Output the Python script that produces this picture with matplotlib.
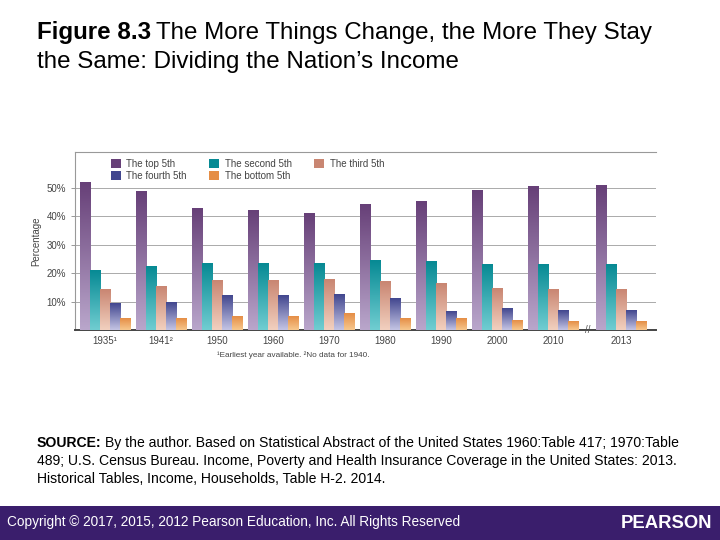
import numpy as np
import matplotlib
matplotlib.use("Agg")
import matplotlib.pyplot as plt
from matplotlib.colors import LinearSegmentedColormap
from matplotlib.patches import Patch

# Data (percent of national income)
years = ["1935\u00b9", "1941\u00b2", "1950", "1960", "1970", "1980", "1990", "2000", "2010", "2013"]
top_5th = [51.7, 48.8, 42.8, 42.0, 40.9, 43.9, 45.2, 49.1, 50.5, 50.8]
second_5th = [20.9, 22.3, 23.4, 23.5, 23.5, 24.5, 23.9, 23.1, 23.1, 23.1]
third_5th = [14.1, 15.3, 17.3, 17.4, 17.6, 17.2, 16.2, 14.6, 14.2, 14.2]
fourth_5th = [9.2, 9.5, 12.0, 12.1, 12.3, 11.1, 6.6, 7.6, 6.8, 6.8]
bottom_5th = [4.1, 4.1, 4.7, 4.7, 5.7, 4.1, 4.1, 3.2, 3.0, 3.0]

series = [
    ("The top 5th", top_5th, "#674078", "#b9a6cb"),
    ("The second 5th", second_5th, "#078a94", "#70cdd1"),
    ("The third 5th", third_5th, "#c98672", "#f2d0bf"),
    ("The fourth 5th", fourth_5th, "#42478f", "#c4c4e4"),
    ("The bottom 5th", bottom_5th, "#e58e46", "#f7c78d"),
]

plt.rcParams["font.family"] = ["Liberation Sans", "DejaVu Sans"]

fig = plt.figure(figsize=(7.2, 5.4), dpi=100)
renderer = fig.canvas.get_renderer()


def text_after(t, s, **kw):
    # put a text right after another one on the same line
    bb = t.get_window_extent(renderer)
    x = (bb.x1 + kw.pop("gap", 0)) / fig.bbox.width
    return fig.text(x, t.get_position()[1], s, **kw)


# Title
t1 = fig.text(37 / 720, 1 - 33 / 540, "Figure 8.3", fontsize=17.4, fontweight="bold", va="center", ha="left")
text_after(t1, "The More Things Change, the More They Stay", gap=5, fontsize=17.4, va="center", ha="left")
fig.text(37 / 720, 1 - 62 / 540, "the Same: Dividing the Nation\u2019s Income", fontsize=17.4, va="center", ha="left")

ax = fig.add_axes([75 / 720, 1 - 330 / 540, (656 - 75) / 720, (330 - 152) / 540])

# group positions, 2013 is set apart after a break
pos = np.arange(len(years), dtype=float)
pos[-1] = 9.22
bar_w = 0.18

for k, (name, vals, c_top, c_bot) in enumerate(series):
    cmap = LinearSegmentedColormap.from_list(name, [c_bot, c_top])
    grad = np.linspace(0, 1, 64).reshape(-1, 1)
    for p, v in zip(pos, vals):
        x0 = p - 2.5 * bar_w + k * bar_w
        ax.imshow(grad, cmap=cmap, origin="lower", aspect="auto",
                  extent=[x0, x0 + bar_w, 0, v], zorder=3, interpolation="bilinear")

ax.set_xlim(-0.54, 9.84)
ax.set_ylim(0, 62.5)
ax.set_yticks([10, 20, 30, 40, 50])
ax.set_yticklabels(["10%", "20%", "30%", "40%", "50%"])
ax.set_xticks(pos)
ax.set_xticklabels(years)
ax.tick_params(axis="both", labelsize=7, labelcolor="#444444", colors="#888888", length=3, width=0.6)
ax.tick_params(axis="x", length=0, pad=4)
ax.yaxis.grid(True, color="#aaaaaa", linewidth=0.7, zorder=0)
ax.set_axisbelow(True)
ax.set_ylabel("Percentage", fontsize=7, color="#444444", labelpad=4)

ax.spines["right"].set_visible(False)
ax.spines["top"].set_color("#999999")
ax.spines["top"].set_linewidth(0.8)
ax.spines["left"].set_color("#999999")
ax.spines["left"].set_linewidth(0.8)
ax.spines["bottom"].set_color("#444444")
ax.spines["bottom"].set_linewidth(1.4)

# break mark on the baseline between 2010 and 2013
ax.text(8.62, 0, "//", fontsize=7, color="#555555", ha="center", va="center",
        transform=ax.transData, zorder=5, clip_on=False)

handles = [Patch(facecolor=c_top, edgecolor="none", label=name) for name, _, c_top, _ in series]
order = [0, 3, 1, 4, 2]
ax.legend([handles[i] for i in order], [series[i][0] for i in order], ncol=3,
          loc="upper left", bbox_to_anchor=(0.05, 1.0), frameon=False, fontsize=7,
          labelcolor="#444444", handlelength=1.0, handleheight=1.0, columnspacing=2.3,
          labelspacing=0.2, handletextpad=0.6, borderaxespad=0.3)

fig.text(217 / 720, 1 - 355 / 540, "\u00b9Earliest year available. \u00b2No data for 1940.",
         fontsize=5.9, color="#444444", va="center", ha="left")

# Source
src_lines = [
    "By the author. Based on Statistical Abstract of the United States 1960:Table 417; 1970:Table",
    "489; U.S. Census Bureau. Income, Poverty and Health Insurance Coverage in the United States: 2013.",
    "Historical Tables, Income, Households, Table H-2. 2014.",
]
s0 = fig.text(37 / 720, 1 - 443 / 540, "SOURCE:", fontsize=10.1, fontweight="bold", va="center", ha="left")
text_after(s0, src_lines[0], gap=3, fontsize=10.1, va="center", ha="left")
fig.text(37 / 720, 1 - 461 / 540, src_lines[1], fontsize=10.1, va="center", ha="left")
fig.text(37 / 720, 1 - 479 / 540, src_lines[2], fontsize=10.1, va="center", ha="left")

# Footer band
fig.patches.append(plt.Rectangle((0, 0), 1, 34 / 540, transform=fig.transFigure,
                                 facecolor="#3a1e6c", edgecolor="none", zorder=0))
fig.text(7 / 720, 1 - 522 / 540, "Copyright \u00a9 2017, 2015, 2012 Pearson Education, Inc. All Rights Reserved",
         fontsize=9.8, color="white", va="center", ha="left")
fig.text(712 / 720, 1 - 523 / 540, "PEARSON", fontsize=13.3, fontweight="bold", color="white",
         va="center", ha="right")

fig.savefig("out.png", dpi=100)
